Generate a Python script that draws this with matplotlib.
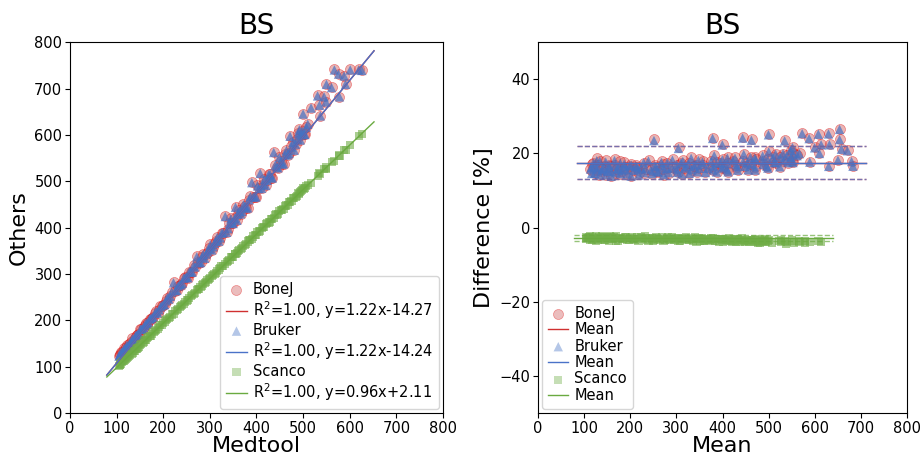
import matplotlib
matplotlib.use("Agg")
import matplotlib.pyplot as plt
import numpy as np

# paired BS measurements, Medtool vs the other tools
medtool = [105, 107, 110, 114, 116, 118, 122, 127, 132, 137,
           141, 146, 151, 156, 161, 166, 171, 176, 182, 188,
           194, 200, 206, 212, 218, 222, 229, 235, 241, 247,
           253, 259, 265, 272, 277, 283, 289, 295, 301, 307,
           313, 319, 325, 333, 339, 345, 350, 355, 360, 366,
           372, 378, 384, 390, 396, 402, 408, 414, 420, 426,
           431, 437, 443, 449, 455, 461, 467, 472, 478, 484,
           490, 492, 496, 500, 504, 510, 517, 531, 535, 537,
           545, 549, 550, 561, 567, 576, 578, 588, 591, 601,
           619, 626,
           108, 112, 120, 124, 129, 134, 139, 143, 148, 153,
           158, 163, 168, 173, 179, 185, 191, 197, 203, 209,
           215, 226, 232, 238, 244, 250, 256, 262, 268, 275,
           280, 286, 292, 298, 304, 310, 316, 322, 328, 336,
           342, 348, 353, 358, 363, 369, 375, 381, 387, 393,
           399, 405, 411, 417, 423, 429, 434, 440, 446, 452,
           458, 464, 470, 475, 481, 487, 494, 498, 502, 507]
bonej = [123, 127, 131, 132, 140, 138, 146, 148, 156, 158,
         167, 171, 182, 181, 189, 192, 204, 206, 215, 216,
         230, 234, 242, 246, 262, 282, 265, 277, 280, 293,
         292, 304, 319, 338, 324, 337, 334, 348, 364, 359,
         371, 371, 389, 425, 398, 420, 409, 445, 429, 430,
         450, 442, 460, 498, 467, 491, 518, 493, 491, 515,
         508, 563, 531, 552, 537, 558, 557, 598, 584, 580,
         605, 612, 600, 646, 601, 624, 659, 685, 665, 641,
         683, 671, 710, 703, 741, 732, 682, 728, 709, 741,
         741, 740,
         126, 132, 142, 143, 151, 161, 162, 169, 170, 181,
         185, 195, 196, 204, 207, 220, 223, 232, 235, 249,
         252, 264, 275, 277, 292, 293, 305, 304, 316, 326,
         325, 343, 343, 355, 352, 366, 380, 378, 389, 390,
         410, 411, 421, 416, 437, 435, 447, 443, 468, 466,
         466, 485, 485, 505, 502, 516, 507, 535, 529, 544,
         538, 567, 560, 575, 567, 592, 589, 609, 601, 617]
bruker = [123, 126, 131, 132, 139, 138, 146, 148, 155, 158,
          167, 170, 181, 181, 189, 192, 203, 206, 215, 216,
          229, 234, 242, 246, 261, 281, 265, 277, 280, 292,
          292, 304, 318, 337, 324, 337, 334, 348, 363, 359,
          371, 371, 388, 424, 398, 419, 409, 444, 429, 430,
          449, 442, 460, 497, 467, 490, 517, 493, 491, 514,
          508, 562, 531, 551, 537, 557, 557, 597, 584, 580,
          604, 611, 600, 645, 601, 623, 658, 684, 664, 641,
          682, 671, 709, 702, 740, 731, 682, 727, 709, 740,
          740, 739,
          125, 132, 141, 143, 151, 160, 162, 168, 170, 181,
          185, 194, 196, 204, 207, 219, 223, 232, 234, 249,
          252, 264, 274, 277, 291, 293, 305, 304, 315, 326,
          325, 342, 343, 354, 352, 366, 379, 378, 389, 390,
          409, 411, 420, 416, 436, 435, 446, 443, 467, 466,
          466, 484, 485, 504, 502, 515, 507, 534, 529, 543,
          538, 566, 560, 574, 567, 591, 589, 608, 601, 616]
scanco = [102.4, 103.8, 106.9, 111.5, 112.1, 114.9, 118.2, 124.0, 127.6, 133.3,
          137.8, 141.3, 147.1, 150.5, 157.0, 161.2, 167.2, 170.0, 177.1, 182.4,
          189.3, 193.4, 200.6, 205.4, 212.6, 214.0, 222.6, 229.6, 233.3, 240.3,
          244.4, 252.5, 257.1, 264.9, 267.3, 275.1, 280.0, 287.9, 291.1, 298.7,
          301.7, 309.7, 316.9, 321.7, 328.8, 336.0, 337.1, 344.0, 349.9, 353.2,
          361.2, 365.5, 373.6, 376.0, 383.7, 390.3, 392.5, 400.8, 408.2, 411.1,
          418.1, 420.8, 428.4, 436.0, 438.6, 446.2, 448.8, 456.0, 463.7, 466.1,
          473.8, 472.3, 478.6, 484.5, 484.8, 492.7, 495.8, 511.9, 517.9, 516.1,
          525.9, 525.9, 529.7, 541.9, 544.3, 555.3, 555.5, 567.4, 566.8, 578.8,
          596.7, 601.6,
          104.9, 109.3, 116.2, 120.7, 124.5, 130.7, 134.8, 139.3, 143.1, 148.7,
          154.4, 157.9, 163.6, 167.1, 174.0, 179.3, 186.2, 190.7, 197.5, 202.7,
          207.7, 220.1, 224.8, 231.3, 235.5, 242.8, 247.8, 254.9, 259.2, 267.0,
          271.0, 278.6, 282.1, 289.1, 295.5, 299.2, 306.2, 313.3, 317.2, 326.3,
          330.0, 337.2, 343.1, 345.8, 352.1, 355.7, 363.0, 370.0, 373.5, 380.8,
          384.2, 391.6, 398.7, 402.0, 409.5, 412.7, 419.2, 426.4, 429.5, 437.1,
          440.1, 447.8, 455.0, 457.0, 464.6, 467.5, 476.2, 481.6, 482.4, 489.3]

names = ["BoneJ", "Bruker", "Scanco"]
# regression lines as given in the legend
slopes = [1.22, 1.22, 0.96]
intercepts = [-14.27, -14.24, 2.11]
fit_labels = [r"R$^2$=1.00, y=1.22x-14.27",
              r"R$^2$=1.00, y=1.22x-14.24",
              r"R$^2$=1.00, y=0.96x+2.11"]
# Bland-Altman mean difference and limits of agreement [%]
ba_mean = [17.5, 17.5, -2.9]
ba_upper = [21.9, 21.9, -2.1]
ba_lower = [13.1, 13.1, -3.7]

markers = ["o", "^", "s"]
sizes = [52, 46, 34]
alphas = [0.45, 0.7, 0.6]
point_colors = ["#cd5c5c", "#4472c4", "#70ad47"]
edge_colors = ["#e00000", "none", "none"]
line_colors = ["#d03030", "#4a72c8", "#6aaa40"]

fig = plt.figure(figsize=(9.21, 4.58), dpi=100)
ax1 = fig.add_axes([0.076, 0.098, 0.405, 0.81])
ax2 = fig.add_axes([0.584, 0.098, 0.401, 0.81])

x = np.array(medtool, dtype=float)
series = [np.array(bonej, float), np.array(bruker, float), np.array(scanco, float)]


def pale_markers(leg):
    # legend symbols are lighter than the overlapping cloud
    for h in leg.legend_handles:
        if not hasattr(h, "get_xdata"):
            h.set_alpha(0.4)


# left: correlation
pad = 0.05 * (x.max() - x.min())
xs = np.array([x.min() - pad, x.max() + pad])
handles1 = []
for i, y in enumerate(series):
    sc = ax1.scatter(x, y, s=sizes[i], marker=markers[i], c=point_colors[i],
                     edgecolors=edge_colors[i], linewidths=0.5, alpha=alphas[i], label=names[i])
    ln, = ax1.plot(xs, slopes[i] * xs + intercepts[i], color=line_colors[i], lw=1,
                   label=fit_labels[i])
    handles1 += [sc, ln]

ax1.set_xlim(0, 800)
ax1.set_ylim(0, 800)
ax1.set_xticks(range(0, 801, 100))
ax1.set_yticks(range(0, 801, 100))
ax1.set_title("BS", fontsize=20)
ax1.set_xlabel("Medtool", fontsize=16, labelpad=0)
ax1.set_ylabel("Others", fontsize=16)
ax1.tick_params(labelsize=10.5, pad=2)
leg1 = ax1.legend(handles=handles1, loc="lower right", fontsize=10.5, handletextpad=0.4,
                  handlelength=1.4, borderaxespad=0.3, labelspacing=0.15)
pale_markers(leg1)

# right: Bland-Altman
handles2 = []
for i, y in enumerate(series):
    mean = (x + y) / 2
    diff = (y - x) / mean * 100
    p = 0.05 * (mean.max() - mean.min())
    ms = [mean.min() - p, mean.max() + p]
    sc = ax2.scatter(mean, diff, s=sizes[i], marker=markers[i], c=point_colors[i],
                     edgecolors=edge_colors[i], linewidths=0.5, alpha=alphas[i], label=names[i])
    ln, = ax2.plot(ms, [ba_mean[i]] * 2, color=line_colors[i], lw=1, label="Mean")
    ax2.plot(ms, [ba_upper[i]] * 2, color=line_colors[i], lw=1, ls="--", alpha=0.7)
    ax2.plot(ms, [ba_lower[i]] * 2, color=line_colors[i], lw=1, ls="--", alpha=0.7)
    handles2 += [sc, ln]

ax2.set_xlim(0, 800)
ax2.set_ylim(-50, 50)
ax2.set_xticks(range(0, 801, 100))
ax2.set_yticks([-40, -20, 0, 20, 40])
ax2.set_title("BS", fontsize=20)
ax2.set_xlabel("Mean", fontsize=16, labelpad=0)
ax2.set_ylabel("Difference [%]", fontsize=16)
ax2.tick_params(labelsize=10.5, pad=2)
leg2 = ax2.legend(handles=handles2, loc="lower left", fontsize=10.5, handletextpad=0.4,
                  handlelength=1.4, borderaxespad=0.3, labelspacing=0.1)
pale_markers(leg2)

fig.savefig("out.png", dpi=100)
